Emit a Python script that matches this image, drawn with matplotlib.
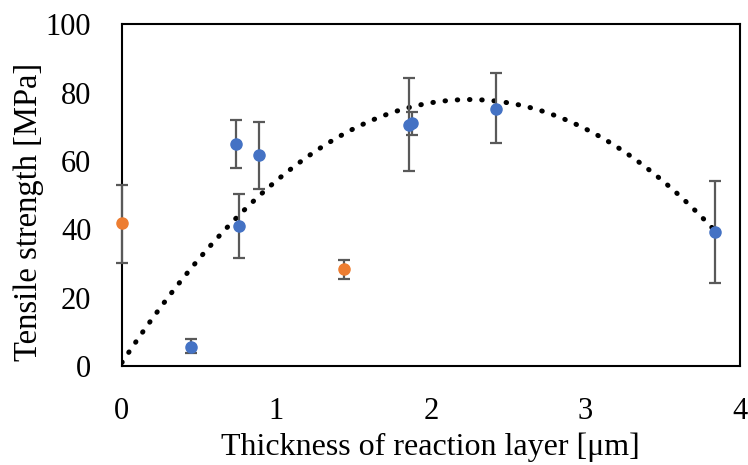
import matplotlib
matplotlib.use("Agg")
import matplotlib.pyplot as plt
import numpy as np

plt.rcParams['font.family'] = ['Liberation Serif', 'DejaVu Serif']

# Blue series
blue_x = [0.45, 0.74, 0.76, 0.89, 1.86, 1.88, 2.42, 3.84]
blue_y = [5.5, 64.8, 40.9, 61.6, 70.5, 71.0, 75.3, 39.2]
blue_lo = [1.8, 6.8, 9.2, 9.9, 13.4, 3.3, 10.2, 15.0]
blue_hi = [2.4, 7.1, 9.3, 9.7, 13.7, 3.3, 10.3, 15.0]

# Orange series
orange_x = [0.0, 1.44]
orange_y = [41.9, 28.4]
orange_lo = [11.8, 3.1]
orange_hi = [11.0, 2.7]

# Polynomial trendline coefficients (c0 + c1*x + c2*x^2)
trend_coef = [1.0, 68.4, -15.2]
trend_range = [0.0, 3.84]

x_ticks = [0, 1, 2, 3, 4]
y_ticks = [0, 20, 40, 60, 80, 100]

fig = plt.figure(figsize=(7.48, 4.65), dpi=100)
ax = fig.add_axes([0.163, 0.213, 0.826, 0.735])

xt = np.linspace(trend_range[0], trend_range[1], 300)
yt = trend_coef[0] + trend_coef[1] * xt + trend_coef[2] * xt ** 2
ax.plot(xt, yt, color='black', linewidth=3.6, linestyle=(0, (0.1, 2.35)),
        dash_capstyle='round', zorder=3)

err_col = '#595959'
ax.errorbar(blue_x, blue_y, yerr=[blue_lo, blue_hi], fmt='o', color='#4472C4',
            markersize=8, ecolor=err_col, elinewidth=1.6, capsize=4,
            capthick=1.6, zorder=4, clip_on=False)
eb = ax.errorbar(orange_x, orange_y, yerr=[orange_lo, orange_hi], fmt='o', color='#ED7D31',
                 markersize=8, ecolor=err_col, elinewidth=1.6, capsize=4,
                 capthick=1.6, zorder=4, clip_on=False)
for art in eb.get_children():
    art.set_clip_on(False)

ax.set_xlim(0, 4)
ax.set_ylim(0, 100)
ax.set_xticks(x_ticks)
ax.set_yticks(y_ticks)
ax.tick_params(length=0, labelsize=22)
ax.tick_params(axis='y', pad=22)
ax.tick_params(axis='x', pad=22)
for s in ax.spines.values():
    s.set_linewidth(1.5)
    s.set_color('black')
    s.set_zorder(2)

ax.set_xlabel('Thickness of reaction layer [μm]', fontsize=23, labelpad=5)
ax.set_ylabel('Tensile strength [MPa]', fontsize=23.5, labelpad=1, y=0.45)

fig.savefig('out.png', dpi=100)
